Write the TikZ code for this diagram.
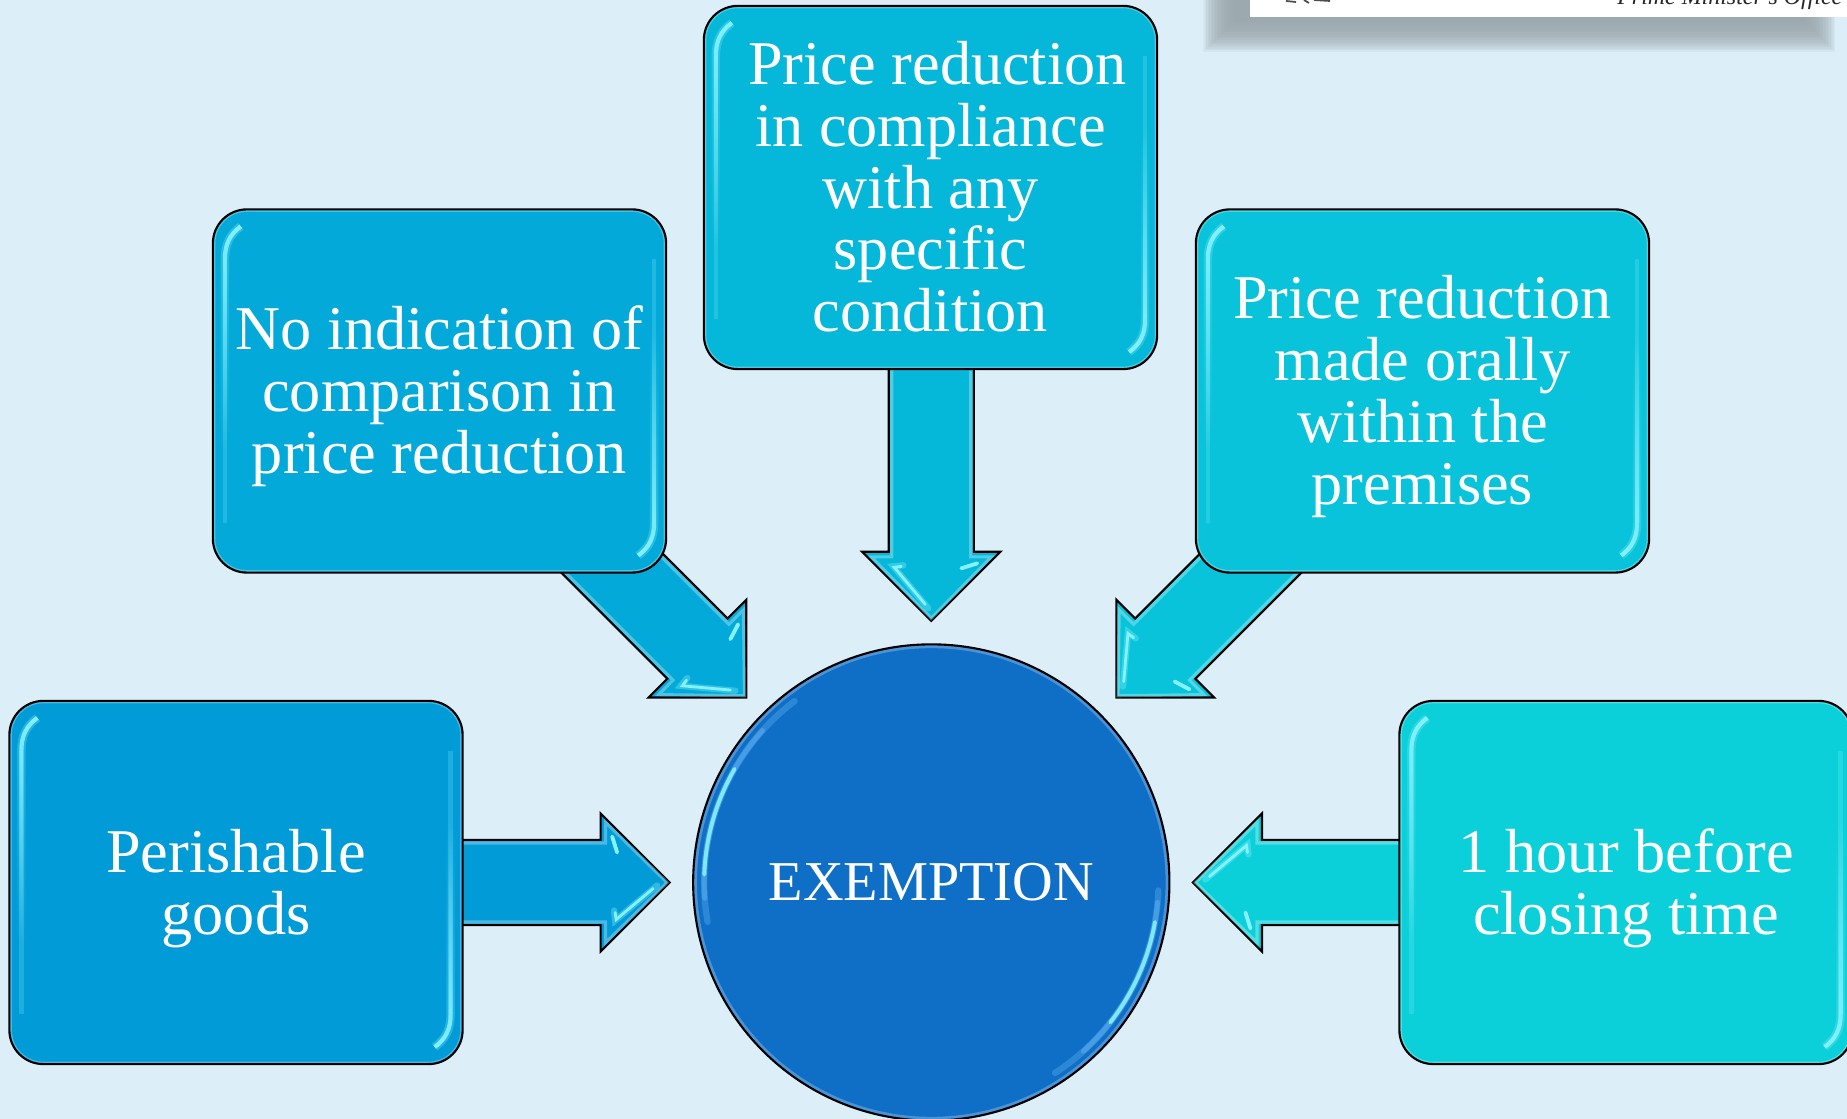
\documentclass[tikz,border=0pt]{standalone}
\usepackage{fontspec}
\setmainfont{Liberation Serif}
\usetikzlibrary{shapes,arrows}
\usetikzlibrary{calc,fadings}

\definecolor{paleback}{HTML}{DCEFF8}
\definecolor{papershade}{HTML}{9CA9AE}
\definecolor{centerblue}{HTML}{0F6FC6}
\definecolor{cardone}{HTML}{019CD8}
\definecolor{cardtwo}{HTML}{03AAD9}
\definecolor{cardthree}{HTML}{05B7D9}
\definecolor{cardfour}{HTML}{08C3D9}
\definecolor{cardfive}{HTML}{0BD0D9}
\definecolor{glintcolor}{HTML}{86F1FF}
\definecolor{discglow}{HTML}{63B4F4}

\def\pb{path picture bounding box}
\newcommand{\cardtop}{\rule{0pt}{16.5pt}}

\tikzset{
  cardbox/.style={rectangle,rounded corners=.34cm,draw=black,line width=.6pt,
    fill=#1,text=white,align=center,inner sep=0pt,
    minimum width=4.53cm,minimum height=3.63cm,
    font=\fontsize{17.7}{17.6}\selectfont,
    execute at end node={\rule[-4.8pt]{0pt}{0pt}},
    path picture={
      \draw[sharp corners,white,opacity=.28,line width=1.4pt]
        (\pb.north west) [rounded corners=.34cm] rectangle (\pb.south east);
      \draw[sharp corners,glintcolor,opacity=.22,line width=1.3pt]
        ([shift={(12,50)}]\pb.north west) -- ([shift={(12,-50)}]\pb.south west);
      \draw[sharp corners,glintcolor,opacity=.22,line width=1.3pt]
        ([shift={(-12,50)}]\pb.north east) -- ([shift={(-12,-50)}]\pb.south east);
      \foreach \w/\o in {2.4pt/.3,1.2pt/1} {
        \draw[sharp corners,glintcolor,opacity=\o,line width=\w,path fading=south]
          ([shift={(28,17)}]\pb.north west) .. controls ([shift={(17,25)}]\pb.north west) and ([shift={(12,35)}]\pb.north west) .. ([shift={(12,50)}]\pb.north west) -- ([shift={(12,240)}]\pb.north west);
        \draw[sharp corners,glintcolor,opacity=\o,line width=\w,path fading=north]
          ([shift={(-28,-17)}]\pb.south east) .. controls ([shift={(-17,-25)}]\pb.south east) and ([shift={(-12,-35)}]\pb.south east) .. ([shift={(-12,-50)}]\pb.south east) -- ([shift={(-12,-240)}]\pb.south east);
      }
    }},
  headarrow/.style={single arrow,draw=black,line width=.6pt,fill=#1,inner sep=0pt,
    single arrow head extend=.265cm,single arrow tip angle=90,text height=.83cm,text depth=0pt,text width=0pt},
  arrowedge/.style={white,opacity=.3,line width=.9pt},
  arrowglint/.style={glintcolor,line cap=round},
  centerdisc/.style={circle,draw=black,line width=.6pt,fill=centerblue,text=white,
    inner sep=0pt,minimum size=4.76cm,font=\fontsize{16}{18}\selectfont,
    path picture={
      \draw[white,opacity=.25,line width=1.6pt] (\pb.center) circle (2.37cm);
    }}
}

\begin{document}
\begin{tikzpicture}[x=.01cm,y=-.01cm]
  \useasboundingbox (0,0) rectangle (1847,1119);
  \clip (0,0) rectangle (1847,1119);
  \fill[paleback] (0,0) rectangle (1847,1119);

  \foreach \d in {-15,-13.5,...,15} {
    \fill[papershade,opacity=.12] (1218+\d,-20) rectangle (1820-\d,37-\d);
  }
  \fill[white] (1250,-5) rectangle (1847,17);
  \node[anchor=base east,inner sep=0pt,font=\fontsize{6.8}{8}\selectfont\itshape,text=black!85] (officeline) at (1843,5) {Prime Minister's Office};
  \draw[black!70,line width=.5pt] (1286,1) -- (1296,2) (1304,0) -- (1309,3) (1314,0) -- (1330,1);

  \node[centerdisc] (exemption) at (931.3,882.5) {EXEMPTION};
  \foreach \a/\b/\w/\o/\c in {127/190/1.8pt/.35/discglow,138/184/1.4pt/.5/discglow,150/178/1.1pt/.9/glintcolor,
    -2/-57/1.8pt/.35/discglow,-5/-48/1.4pt/.5/discglow,-10/-38/1.1pt/.9/glintcolor} {
    \draw[\c,opacity=\o,line cap=round,line width=\w] (exemption.center) ++(\a:2.27cm) arc[start angle=\a,end angle=\b,radius=2.27cm];
  }

  \foreach \card/\ang/\len/\col in {perishable/180/208/cardone,comparison/135/245/cardtwo,condition/90/252/cardthree,orally/45/245/cardfour,closing/0/208/cardfive} {
    \node[headarrow=\col,rotate=\ang+180,anchor=tip,minimum height=\len*.01cm] (arrow\card) at ($(exemption.center)+(\ang:2.6cm)$) {};
    \begin{scope}[shift={(arrow\card.tip)},rotate=\ang+180]
      \draw[arrowedge] (-\len,-39.5) -- (-65.5,-39.5) -- (-65.5,-60) -- (-4,0) -- (-65.5,60) -- (-65.5,39.5) -- (-\len,39.5);
      \draw[arrowglint,line width=1.8pt,opacity=.35] (-14,3) -- (-56,38) -- (-57,28);
      \draw[arrowglint,line width=.8pt] (-18,6) -- (-55,37) -- (-56,30);
      \draw[arrowglint,line width=1.1pt] (-59,-46) -- (-54,-30);
    \end{scope}
  }

  \node[cardbox=cardone] (perishable) at (236,882.5) {\cardtop Perishable\\goods};
  \node[cardbox=cardtwo] (comparison) at (439.5,391) {\cardtop No indication of\\comparison in\\price reduction};
  \node[cardbox=cardthree] (condition) at (930.5,187.5) {\cardtop\hspace*{.14cm}Price reduction\\in compliance\\with any\\specific\\condition};
  \node[cardbox=cardfour] (orally) at (1422.5,391) {\cardtop Price reduction\\made orally\\within the\\premises};
  \node[cardbox=cardfive] (closing) at (1626,882.5) {\cardtop 1 hour before\\closing time};
\end{tikzpicture}
\end{document}
